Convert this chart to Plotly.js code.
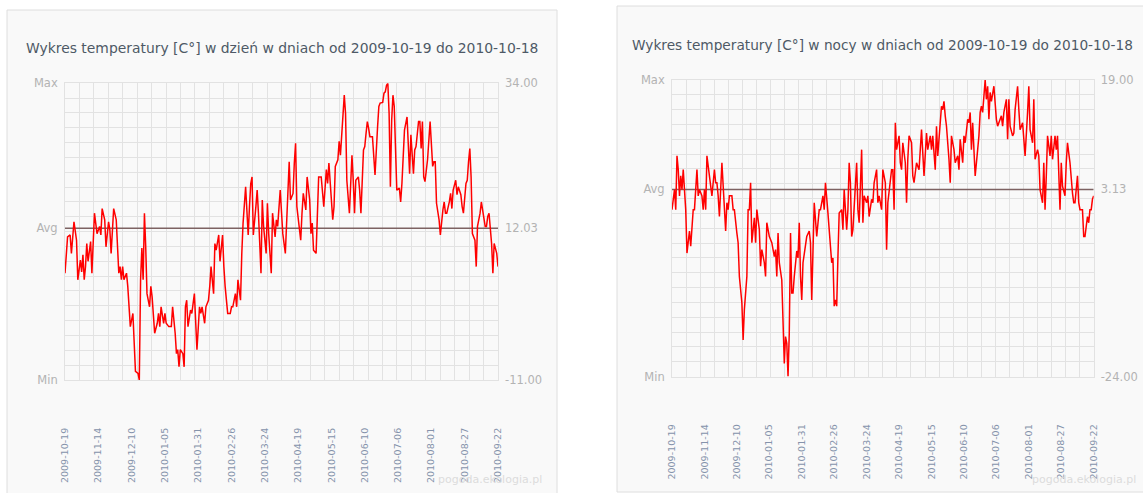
<!DOCTYPE html>
<html>
<head>
<meta charset="utf-8">
<script src="https://cdn.plot.ly/plotly-3.0.1.min.js"></script>
<style>
html,body{margin:0;padding:0;background:#ffffff;}
#chart{width:1143px;height:493px;}
</style>
</head>
<body>
<div id="chart"></div>
<script>
// ---- data ----
const tickLabels = ['2009-10-19','2009-11-14','2009-12-10','2010-01-05','2010-01-31','2010-02-26','2010-03-24','2010-04-19','2010-05-15','2010-06-10','2010-07-06','2010-08-01','2010-08-27','2010-09-22'];
const tickDays = [0,26,52,78,104,130,156,182,208,234,260,286,312,338];

const dayTitle = 'Wykres temperatury [C°] w dzień w dniach od 2009-10-19 do 2010-10-18';
const nightTitle = 'Wykres temperatury [C°] w nocy w dniach od 2009-10-19 do 2010-10-18';

const dayMin = -11.00, dayAvg = 12.03, dayMax = 34.00;
const nightMin = -24.00, nightAvg = 3.13, nightMax = 19.00;

const dayDays = [0,2,4,5,7,9,10,12,13,14,15,16,17,18,20,21,23,25,27,28,29,31,32,34,35,36,38,40,42,43,44,45,46,48,49,51,53,54,55,57,58,59,60,61,62,63,64,66,67,68,70,72,73,74,75,77,78,79,81,83,84,86,87,88,89,90,92,93,94,95,96,98,99,101,102,103,105,106,107,109,110,112,113,114,116,117,118,120,121,123,124,125,127,129,130,131,133,134,135,137,138,139,141,143,144,145,146,147,149,150,151,153,154,155,157,158,159,161,162,164,165,166,168,169,170,172,173,174,175,176,178,179,180,181,183,184,185,186,188,189,191,192,193,194,196,197,198,200,201,202,204,205,206,208,209,210,211,213,214,215,217,218,219,220,222,223,224,225,226,227,229,230,231,233,234,235,236,237,238,240,241,242,244,245,246,248,249,250,251,252,253,254,255,256,257,258,259,261,262,263,264,265,267,268,269,270,272,273,274,276,277,278,279,280,281,283,284,285,287,288,289,290,292,293,295,296,297,298,300,301,302,303,305,306,307,309,310,311,313,314,315,316,317,318,320,321,322,324,325,326,328,329,330,331,333,334,335,337,338];
const dayTemps = [5.2,10.7,11.0,8.2,13.0,10.2,4.2,7.2,5.4,8.0,4.2,6.2,9.7,7.0,10.0,5.2,14.3,11.2,12.3,11.0,15.0,13.3,9.2,13.0,11.8,8.2,15.0,13.3,5.2,6.2,4.2,6.2,4.2,5.2,3.2,-2.9,-0.9,-5.4,-9.7,-10.0,-11.0,4.2,9.0,4.2,14.3,9.2,2.1,0.1,3.2,1.6,-3.9,-2.4,-0.9,-2.9,0.1,-2.4,-0.9,-2.4,-2.9,-2.9,0.1,-3.9,-7.0,-6.4,-9.0,-6.4,-7.0,-9.0,0.1,1.1,-2.9,-0.4,-0.9,2.1,-2.9,-6.4,0.1,-0.9,0.1,-2.4,0.1,1.1,3.2,6.2,2.1,9.7,8.7,11.0,7.0,11.0,6.2,3.2,-0.9,-0.9,0.1,0.1,2.1,0.1,4.2,1.1,8.2,12.8,18.3,11.0,15.3,18.8,19.8,11.0,15.3,17.8,14.3,5.2,16.3,12.3,8.2,15.8,11.2,5.2,14.3,10.7,13.3,12.3,17.8,13.8,11.2,8.2,12.3,15.8,22.1,16.3,17.3,21.9,24.9,15.3,11.2,10.2,14.3,17.3,14.8,19.8,16.3,11.2,12.8,8.7,8.2,13.3,19.8,19.8,17.8,15.3,20.9,18.8,21.9,16.3,13.3,15.3,21.4,22.4,25.2,23.1,30.5,32.2,29.4,19.3,14.3,19.8,23.1,19.3,14.3,19.3,19.8,17.8,14.3,23.9,24.4,26.4,28.2,27.2,25.9,25.9,23.4,20.1,27.4,30.5,31.0,31.1,32.5,32.7,33.7,34.0,29.4,18.3,28.4,32.2,30.5,24.4,17.8,18.1,16.0,18.8,23.1,26.9,28.9,24.9,20.3,26.2,20.3,23.9,24.4,28.2,28.2,24.1,28.2,19.8,19.1,22.4,24.9,28.2,21.4,22.1,22.1,15.8,13.3,11.0,14.8,16.0,14.3,14.3,16.0,17.3,15.0,17.8,19.3,17.1,18.3,17.1,15.3,14.3,18.8,19.3,22.1,24.1,19.8,11.2,10.2,6.2,12.3,14.3,16.0,14.8,12.3,12.3,13.8,14.3,9.7,5.2,9.7,8.2,6.2];

const nightDays = [0,2,3,4,5,6,7,8,9,11,12,13,14,15,17,18,20,21,22,24,25,26,27,28,29,31,32,33,34,35,36,37,38,40,41,43,44,45,46,48,49,50,52,53,54,56,57,58,60,61,62,63,64,66,67,68,70,71,72,74,75,76,78,79,80,82,83,84,85,86,88,90,91,92,93,94,95,96,97,98,100,101,102,103,104,105,107,108,110,111,112,113,114,116,117,118,119,121,122,123,125,126,128,129,130,131,132,133,134,136,137,138,140,141,142,143,144,145,146,148,149,150,152,153,154,156,157,158,160,161,162,164,165,166,168,169,171,172,173,175,176,177,178,179,180,182,183,184,185,187,188,189,190,192,193,194,195,196,198,199,200,202,203,204,205,207,208,209,211,212,213,214,215,216,217,218,219,220,222,223,224,226,227,229,230,231,233,234,235,237,238,239,240,241,242,243,245,246,247,248,249,250,251,252,253,254,255,256,257,258,260,261,262,264,265,266,268,269,270,271,273,274,275,277,278,279,281,282,283,285,286,287,289,290,291,293,294,295,297,298,299,300,301,303,304,305,307,308,309,311,312,313,315,316,317,318,319,321,322,323,325,326,327,329,330,331,333,334,335,336,337,338];
const nightTemps = [0.2,3.1,0.2,8.0,6.0,2.2,5.1,3.1,6.0,0.2,-6.1,-4.6,-2.9,-5.1,0.2,0.2,6.0,2.2,3.1,2.2,0.2,3.1,0.2,8.0,6.5,4.1,2.2,4.1,6.0,4.1,4.1,2.2,-0.8,7.0,3.1,-2.9,1.2,0.2,2.2,2.2,0.2,0.2,-3.2,-4.6,-9.5,-13.3,-18.7,-14.3,-9.5,0.2,0.2,4.1,-4.6,-1.0,-4.6,0.2,-2.7,-8.0,-5.6,-7.5,-9.5,-1.7,-3.7,-4.1,-4.6,-6.6,-5.6,-9.5,-3.2,-7.5,-10.0,-22.1,-18.2,-19.2,-24.0,-17.7,-3.2,-11.9,-11.9,-9.5,-5.8,-6.8,-1.7,-9.5,-12.9,-7.5,-4.6,-3.7,-2.9,-4.6,-12.9,-3.2,1.2,-3.7,-1.7,0.2,0.2,2.2,0.2,4.1,-0.3,-3.2,-7.5,-6.8,-13.8,-12.9,-13.8,-6.6,-0.3,0.2,-2.7,3.1,-2.7,0.2,7.0,4.1,-3.7,-2.7,1.2,7.0,0.2,-1.7,8.9,-1.7,2.2,1.2,2.2,-0.8,1.7,1.2,4.1,6.0,1.2,2.2,0.2,6.0,4.1,-5.6,1.2,4.1,6.0,6.0,0.2,12.8,8.9,10.9,7.0,6.0,9.9,7.0,1.2,7.5,10.9,9.9,5.1,4.1,6.0,7.0,6.0,9.9,11.8,5.1,7.5,11.3,8.9,10.9,8.9,10.9,6.0,12.3,8.0,10.9,13.3,15.2,14.7,15.9,13.8,12.3,7.5,4.1,10.9,8.9,7.0,8.0,6.0,10.4,7.0,10.9,9.9,13.3,12.8,14.3,8.9,12.8,8.9,5.1,8.9,10.9,14.3,15.2,14.3,16.2,19.0,16.2,18.1,13.3,17.2,15.9,16.9,18.1,13.3,12.3,12.8,13.8,12.3,14.3,16.2,10.4,16.2,12.3,10.9,11.3,14.7,18.1,14.7,11.8,12.8,9.9,8.0,14.3,18.1,11.8,9.9,16.2,7.5,8.9,8.0,3.1,1.2,7.0,0.2,5.1,10.9,8.0,10.9,7.5,10.9,8.9,10.9,0.2,7.0,3.6,2.2,7.0,9.9,8.4,7.0,2.6,1.2,1.2,5.1,1.2,0.2,0.2,-3.7,-3.7,-0.8,-1.7,0.2,0.2,1.7,2.2];

const watermark = 'pogoda.ekologia.pl';

// ---- helpers (layout geometry in pixels of the 1143x493 page) ----
const W = 1143, H = 493;
const px = v => v / W;
const py = v => 1 - v / H;
const FONT = 'DejaVu Sans';
const GRID = '#e2e2e2';
const LABEL = '#b3b3b3';
const lastDay = tickDays[tickDays.length - 1];

function xAxis(l, r) {
  return {
    domain: [px(l), px(r)], range: [0, lastDay],
    tickmode: 'array', tickvals: tickDays, ticktext: tickLabels,
    tickangle: -90, ticks: '', ticklabelstandoff: 43,
    tickfont: {family: FONT, size: 9.5, color: '#8593ab'},
    showgrid: false, zeroline: false,
    showline: true, mirror: true, linecolor: GRID, linewidth: 1,
    minor: {tickmode: 'linear', tick0: 0, dtick: lastDay / 30,
            showgrid: true, gridcolor: GRID, gridwidth: 1, ticks: ''},
    fixedrange: true
  };
}
function yLeft(t, b, mn, av, mx, anchor) {
  return {
    domain: [py(b), py(t)], range: [mn, mx], anchor: anchor,
    tickmode: 'array', tickvals: [mn, av, mx], ticktext: ['Min', 'Avg', 'Max'],
    ticks: '', ticklabelstandoff: 4,
    tickfont: {family: FONT, size: 11.5, color: LABEL},
    showgrid: false, zeroline: false,
    showline: true, mirror: true, linecolor: GRID, linewidth: 1,
    minor: {tickmode: 'linear', tick0: mn, dtick: (mx - mn) / 20,
            showgrid: true, gridcolor: GRID, gridwidth: 1, ticks: ''},
    fixedrange: true
  };
}
function yRight(over, anchor, mn, av, mx) {
  return {
    overlaying: over, anchor: anchor, side: 'right', range: [mn, mx],
    tickmode: 'array', tickvals: [mn, av, mx],
    ticktext: [mn.toFixed(2), av.toFixed(2), mx.toFixed(2)],
    ticks: '', ticklabelstandoff: 6,
    tickfont: {family: FONT, size: 11.5, color: LABEL},
    showgrid: false, zeroline: false, showline: false, fixedrange: true
  };
}

const AVGCOL = '#7d6262';
const traces = [
  // average lines (drawn first, under the temperature line)
  {x: [0, lastDay], y: [dayAvg, dayAvg], xaxis: 'x', yaxis: 'y', mode: 'lines',
   line: {color: AVGCOL, width: 1.5}, hoverinfo: 'skip'},
  {x: [0, lastDay], y: [nightAvg, nightAvg], xaxis: 'x2', yaxis: 'y2', mode: 'lines',
   line: {color: AVGCOL, width: 1.5}, hoverinfo: 'skip'},
  {x: dayDays, y: dayTemps, xaxis: 'x', yaxis: 'y', mode: 'lines',
   line: {color: '#ff0000', width: 1.5}, hoverinfo: 'skip'},
  {x: nightDays, y: nightTemps, xaxis: 'x2', yaxis: 'y2', mode: 'lines',
   line: {color: '#ff0000', width: 1.5}, hoverinfo: 'skip'},
  // invisible anchors so the right-hand value axes are drawn
  {x: [0], y: [dayAvg], xaxis: 'x', yaxis: 'y3', mode: 'markers',
   marker: {opacity: 0}, hoverinfo: 'skip'},
  {x: [0], y: [nightAvg], xaxis: 'x2', yaxis: 'y4', mode: 'markers',
   marker: {opacity: 0}, hoverinfo: 'skip'}
];

const layout = {
  width: W, height: H, margin: {l: 0, r: 0, t: 0, b: 0},
  paper_bgcolor: '#ffffff', plot_bgcolor: 'rgba(0,0,0,0)', showlegend: false,
  xaxis: Object.assign(xAxis(65, 498), {anchor: 'y'}),
  yaxis: yLeft(83.3, 380, dayMin, dayAvg, dayMax, 'x'),
  yaxis3: yRight('y', 'x', dayMin, dayAvg, dayMax),
  xaxis2: Object.assign(xAxis(672, 1093.7), {anchor: 'y2'}),
  yaxis2: yLeft(80, 376.5, nightMin, nightAvg, nightMax, 'x2'),
  yaxis4: yRight('y2', 'x2', nightMin, nightAvg, nightMax),
  shapes: [
    {type: 'rect', xref: 'paper', yref: 'paper', x0: px(7), x1: px(557), y0: -0.05, y1: py(10),
     fillcolor: '#f9f9f9', line: {color: '#dedede', width: 1}, layer: 'below'},
    {type: 'rect', xref: 'paper', yref: 'paper', x0: px(617), x1: 1.05, y0: py(492), y1: py(6),
     fillcolor: '#f9f9f9', line: {color: '#dedede', width: 1}, layer: 'below'}
  ],
  annotations: [
    {text: dayTitle, xref: 'paper', yref: 'paper', x: px((65 + 498) / 2), y: py(48),
     xanchor: 'center', yanchor: 'middle', showarrow: false,
     font: {family: FONT, size: 13.9, color: '#4e5966'}},
    {text: nightTitle, xref: 'paper', yref: 'paper', x: px((672 + 1093.7) / 2), y: py(45),
     xanchor: 'center', yanchor: 'middle', showarrow: false,
     font: {family: FONT, size: 13.7, color: '#4e5966'}},
    {text: watermark, xref: 'paper', yref: 'paper', x: px(544), y: py(479),
     xanchor: 'right', yanchor: 'middle', showarrow: false,
     font: {family: FONT, size: 11, color: '#dcdcdc'}},
    {text: watermark, xref: 'paper', yref: 'paper', x: px(1138), y: py(479),
     xanchor: 'right', yanchor: 'middle', showarrow: false,
     font: {family: FONT, size: 11, color: '#dcdcdc'}}
  ]
};

Plotly.newPlot('chart', traces, layout, {staticPlot: true, displayModeBar: false});
</script>
</body>
</html>
